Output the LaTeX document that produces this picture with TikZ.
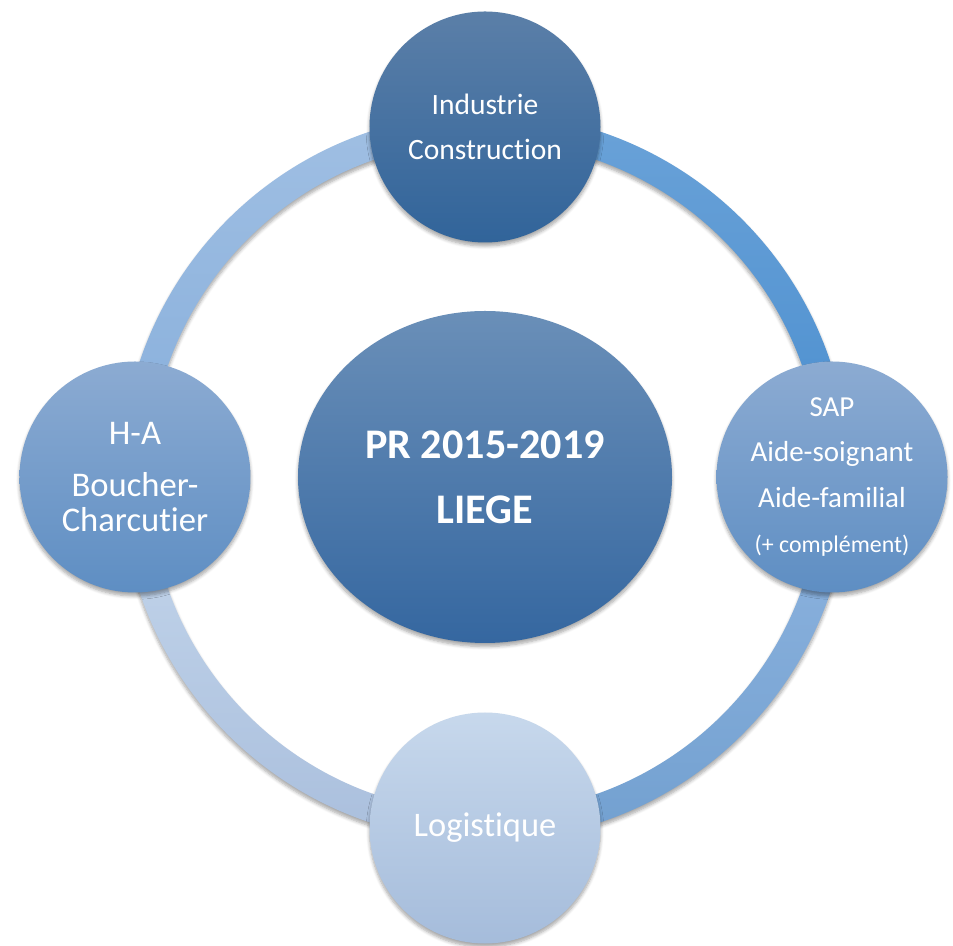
\documentclass[tikz,border=0pt]{standalone}
\usepackage{fontspec}
\setmainfont{Carlito}[Ligatures=NoCommon]
\usetikzlibrary{positioning, shapes.geometric, shadows.blur}
\definecolor{hubTop}{HTML}{6A8FB8}
\definecolor{hubBot}{HTML}{3567A0}
\definecolor{indTop}{HTML}{5B7FA8}
\definecolor{indBot}{HTML}{31649A}
\definecolor{sideTop}{HTML}{8CABD2}
\definecolor{sideBot}{HTML}{5E8EC3}
\definecolor{logTop}{HTML}{C7D8EC}
\definecolor{logBot}{HTML}{A5BCDB}
\tikzset{
  shade/.style ={blur shadow={shadow xshift=0pt, shadow yshift=-0.7mm,
                 shadow blur steps=6, shadow opacity=35}},
  hub/.style   ={ellipse, minimum width=7.48cm, minimum height=6.64cm,
                 inner sep=0pt, top color=hubTop, bottom color=hubBot,
                 text=white, align=center, shade,
                 font=\fontsize{24}{37}\selectfont\bfseries},
  spoke/.style ={circle, minimum size=4.62cm, inner sep=0pt,
                 text=white, align=center, shade,
                 font=\fontsize{16.8}{25.6}\selectfont},
  ringseg/.style={shade}
}
\begin{document}
\begin{tikzpicture}
  \useasboundingbox (-9.70,-9.38) rectangle (9.36,9.54);
  % ring behind the circles, one shaded quarter each
  \foreach \a/\ct/\cb in {0/6AA2D8/4A8ECF, 90/A0BFE3/86AEDB,
                          180/C5D7EC/AABFDD, 270/90B5E0/72A0D0} {
    \definecolor{segTop}{HTML}{\ct}
    \definecolor{segBot}{HTML}{\cb}
    \path[ringseg, top color=segTop, bottom color=segBot]
      (\a:7.28) arc[start angle=\a, end angle=\a+90, radius=7.28]
      -- (\a+90:6.72) arc[start angle=\a+90, end angle=\a, radius=6.72]
      -- cycle;
  }
  \node[hub] (liege) at (0,0) {PR 2015-2019\\LIEGE};
  \node[spoke, top color=indTop, bottom color=indBot] (indus) at (0,7.0)
    {Industrie\\Construction};
  \node[spoke, top color=sideTop, bottom color=sideBot,
        font=\fontsize{16.5}{25.8}\selectfont] (sap) at (6.94,0)
    {SAP\\Aide-soignant\\Aide-familial\\{\fontsize{13.6}{23}\selectfont(+ complément)}};
  \node[spoke, top color=sideTop, bottom color=sideBot,
        font=\fontsize{19.7}{20}\selectfont] (horeca) at (-7.0,0)
    {H-A\\[10pt]Boucher-\\Charcutier};
  \node[spoke, top color=logTop, bottom color=logBot,
        font=\fontsize{19.6}{25}\selectfont] (logi) at (0,-7.02)
    {Logistique};
\end{tikzpicture}
\end{document}
